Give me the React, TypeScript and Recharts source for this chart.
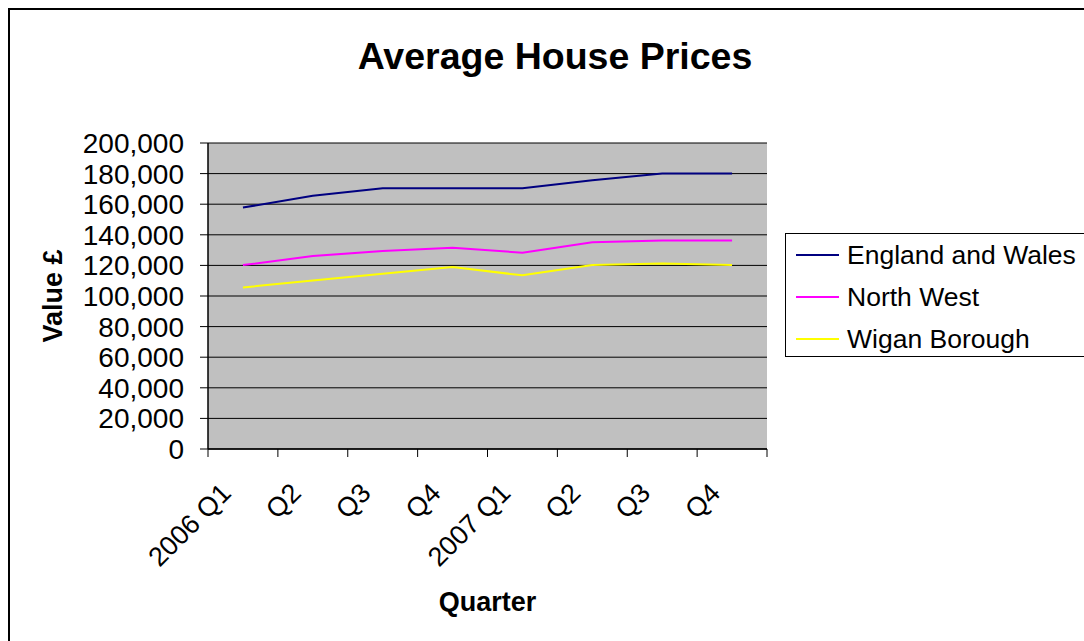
import React from 'react';
import { LineChart, Line, XAxis, YAxis, CartesianGrid, Legend } from 'recharts';

const quarters = ['2006 Q1', 'Q2', 'Q3', 'Q4', '2007 Q1', 'Q2', 'Q3', 'Q4'];
const englandWales = [157800, 165500, 170500, 170500, 170500, 175600, 180000, 180000];
const northWest = [120200, 126100, 129400, 131600, 128300, 135100, 136200, 136200];
const wiganBorough = [105600, 110100, 114600, 118900, 113500, 120200, 121300, 120200];
const yTicks = [0, 20000, 40000, 60000, 80000, 100000, 120000, 140000, 160000, 180000, 200000];
const seriesKeys = ['ew', 'nw', 'wigan'];
const seriesNames = ['England and Wales', 'North West', 'Wigan Borough'];
const seriesColors = ['#000080', '#FF00FF', '#FFFF00'];

const data = quarters.map((q, i) => ({
  idx: i,
  quarter: q,
  ew: englandWales[i],
  nw: northWest[i],
  wigan: wiganBorough[i],
}));

// category centres (labels) and category boundaries (tick marks)
const xTicks: number[] = [];
for (let i = 0; i <= quarters.length; i++) {
  xTicks.push(i - 0.5);
  if (i < quarters.length) xTicks.push(i);
}

const FONT = '"Liberation Sans", Arial, sans-serif';

const XTick = (props: any) => {
  const { x, y, payload } = props;
  const v = payload.value;
  if (!Number.isInteger(v)) {
    return <line x1={x} x2={x} y1={y} y2={y + 8} stroke="#000" strokeWidth={1} />;
  }
  const tx = x - 24;
  const ty = y + 32;
  return (
    <text
      x={tx}
      y={ty}
      dy="0.72em"
      transform={`rotate(-45 ${tx} ${ty})`}
      textAnchor="end"
      fontSize={27}
      fontFamily={FONT}
      fill="#000"
    >
      {quarters[v]}
    </text>
  );
};

const renderLegend = () => (
  <div style={{ paddingTop: 0, paddingLeft: 10 }}>
    {seriesNames.map((n, i) => (
      <div key={n} style={{ display: 'flex', alignItems: 'center', height: 42 }}>
        <div style={{ width: 43, height: 0, borderTop: `2px solid ${seriesColors[i]}`, marginRight: 8 }} />
        <span style={{ fontFamily: FONT, fontSize: 26.5, color: '#000', whiteSpace: 'nowrap' }}>{n}</span>
      </div>
    ))}
  </div>
);

export default function App() {
  return (
    <div style={{ position: 'fixed', left: 0, top: 0, width: 1084, height: 641, overflow: 'hidden', background: '#fff' }}>
      <div
        style={{
          position: 'absolute',
          left: 8,
          top: 8,
          width: 1100,
          height: 700,
          borderTop: '2px solid #000',
          borderLeft: '2px solid #000',
        }}
      />
      <div
        style={{
          position: 'absolute',
          left: 0,
          width: 1110,
          top: 35,
          textAlign: 'center',
          fontFamily: FONT,
          fontWeight: 'bold',
          fontSize: 37.5,
          lineHeight: '42px',
          color: '#000',
        }}
      >
        Average House Prices
      </div>
      <div style={{ position: 'absolute', left: 0, top: 0 }}>
        <LineChart width={1084} height={641} data={data} margin={{ top: 143, right: 317, bottom: 0, left: 0 }}>
          <CartesianGrid fill="#c0c0c0" stroke="#000" vertical={false} strokeWidth={1} />
          <XAxis
            dataKey="idx"
            type="number"
            domain={[-0.5, quarters.length - 0.5]}
            ticks={xTicks}
            interval={0}
            allowDecimals
            height={192}
            tickLine={false}
            tickSize={0}
            tickMargin={0}
            axisLine={{ stroke: '#000', strokeWidth: 1.5 }}
            tick={<XTick />}
            label={{
              value: 'Quarter',
              position: 'insideBottom',
              offset: 30,
              fontFamily: FONT,
              fontWeight: 'bold',
              fontSize: 27,
              fill: '#000',
            }}
          />
          <YAxis
            width={208}
            domain={[0, 200000]}
            ticks={yTicks}
            interval={0}
            tickSize={8}
            tickMargin={16}
            tickLine={{ stroke: '#000' }}
            axisLine={{ stroke: '#000', strokeWidth: 1.5 }}
            tick={{ fontFamily: FONT, fontSize: 28, fill: '#000' }}
            tickFormatter={(v: number) => v.toLocaleString('en-US')}
            label={{
              value: 'Value £',
              position: 'insideLeft',
              content: (p: any) => {
                const vb = p.viewBox;
                const cy = vb.y + vb.height / 2;
                return (
                  <text
                    x={62}
                    y={cy}
                    transform={`rotate(-90 62 ${cy})`}
                    textAnchor="middle"
                    fontFamily={FONT}
                    fontWeight="bold"
                    fontSize={27}
                    fill="#000"
                  >
                    Value £
                  </text>
                );
              },
            }}
          />
          <YAxis
            yAxisId="right"
            orientation="right"
            width={0}
            domain={[0, 200000]}
            tick={false}
            tickLine={false}
            axisLine={{ stroke: '#808080', strokeWidth: 1.5 }}
          />
          {seriesKeys.map((k, i) => (
            <Line
              key={k}
              type="linear"
              dataKey={k}
              name={seriesNames[i]}
              stroke={seriesColors[i]}
              strokeWidth={2}
              dot={false}
              activeDot={false}
              isAnimationActive={false}
            />
          ))}
          <Legend
            layout="vertical"
            align="center"
            verticalAlign="middle"
            content={renderLegend}
            wrapperStyle={{
              left: 785,
              top: 233,
              width: 310,
              height: 124,
              border: '1px solid #000',
              boxSizing: 'border-box',
              background: '#fff',
            }}
          />
        </LineChart>
      </div>
    </div>
  );
}
